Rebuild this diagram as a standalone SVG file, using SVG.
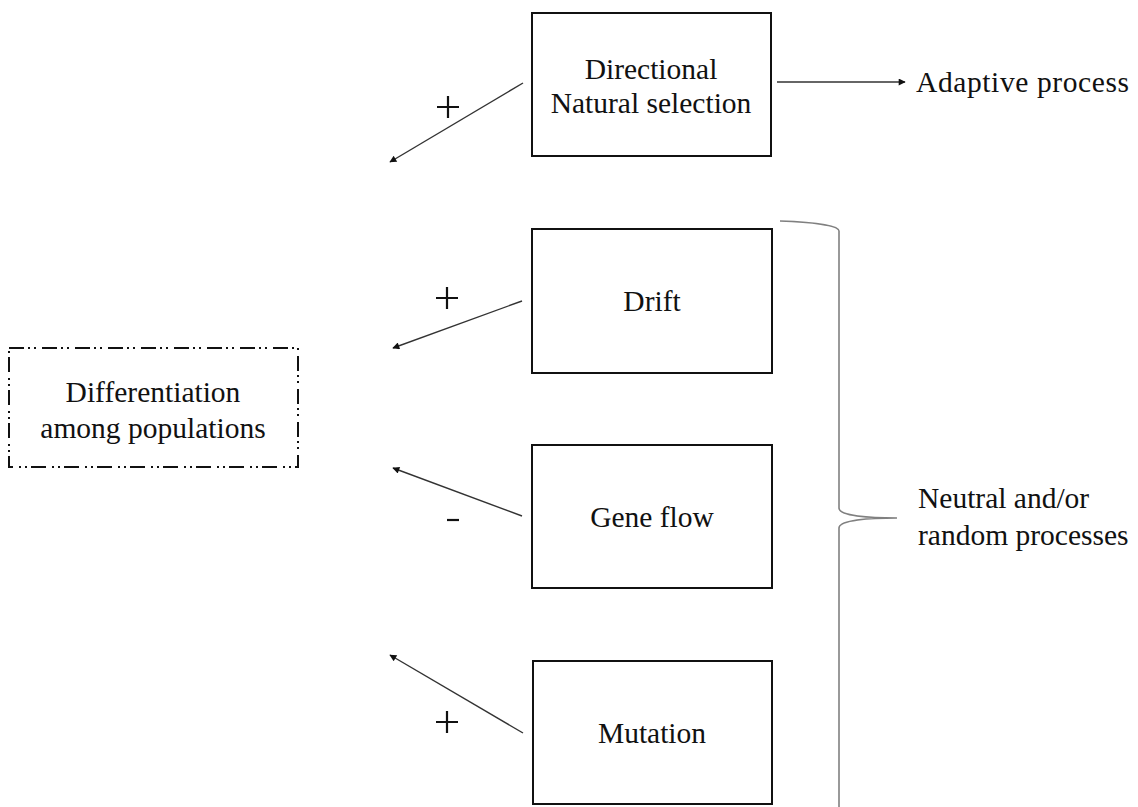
<svg xmlns="http://www.w3.org/2000/svg" width="1138" height="807" viewBox="0 0 1138 807">
<defs>
<style>
text{font-family:"Liberation Serif","Times New Roman",serif;font-size:29.5px;fill:#111;}
.c{text-anchor:middle;}
.box{fill:#fff;stroke:#111;stroke-width:2;}
.dd{fill:#fff;stroke:#111;stroke-width:2;stroke-dasharray:15 4 2 4 2 6;}
.conn{stroke:#333;stroke-width:1.4;fill:none;marker-end:url(#ah);}
.brace{stroke:#808080;stroke-width:1.6;fill:none;}
.sign{stroke:#111;stroke-width:2.2;}
</style>
<marker id="ah" viewBox="0 0 10 10" refX="9" refY="5" markerWidth="9" markerHeight="7" markerUnits="userSpaceOnUse" orient="auto">
<path d="M0,0 L10,5 L0,10 z" fill="#111"/>
</marker>
</defs>
<rect width="1138" height="807" fill="#fff"/>
<g id="connectors">
<line class="conn" x1="523" y1="83" x2="390" y2="162"/>
<line class="conn" x1="522" y1="301" x2="393" y2="348"/>
<line class="conn" x1="522" y1="516" x2="393" y2="468"/>
<line class="conn" x1="523" y1="733" x2="390" y2="655"/>
<line class="conn" x1="777" y1="82" x2="905" y2="82"/>
<path class="sign" d="M437,107 H459 M448,96 V118"/>
<path class="sign" d="M436,298 H458 M447,287 V309"/>
<path class="sign" d="M447,520 H459"/>
<path class="sign" d="M436,722 H458 M447,711 V733"/>
</g>
<g id="node-selection">
<rect class="box" x="532" y="13" width="239" height="143"/>
<text class="c" x="651" y="79">Directional</text>
<text class="c" x="651" y="113">Natural selection</text>
</g>
<g id="node-adaptive">
<text x="916" y="92" style="letter-spacing:0.6px">Adaptive process</text>
</g>
<g id="node-drift">
<rect class="box" x="532" y="229" width="240" height="144"/>
<text class="c" x="652" y="311">Drift</text>
</g>
<g id="node-geneflow">
<rect class="box" x="532" y="445" width="240" height="143"/>
<text class="c" x="652" y="527">Gene flow</text>
</g>
<g id="node-mutation">
<rect class="box" x="533" y="661" width="239" height="143"/>
<text class="c" x="652" y="743">Mutation</text>
</g>
<g id="node-differentiation">
<rect class="dd" x="9" y="348" width="289" height="119"/>
<text class="c" x="153" y="402">Differentiation</text>
<text class="c" x="153" y="438">among populations</text>
</g>
<g id="node-neutral">
<path class="brace" d="M780,221 C810,222 839,225 839,231 V508 C839,516 870,518 897,518 C870,518 839,520 839,528 V807"/>
<text x="918" y="508">Neutral and/or</text>
<text x="918" y="545">random processes</text>
</g>
</svg>
